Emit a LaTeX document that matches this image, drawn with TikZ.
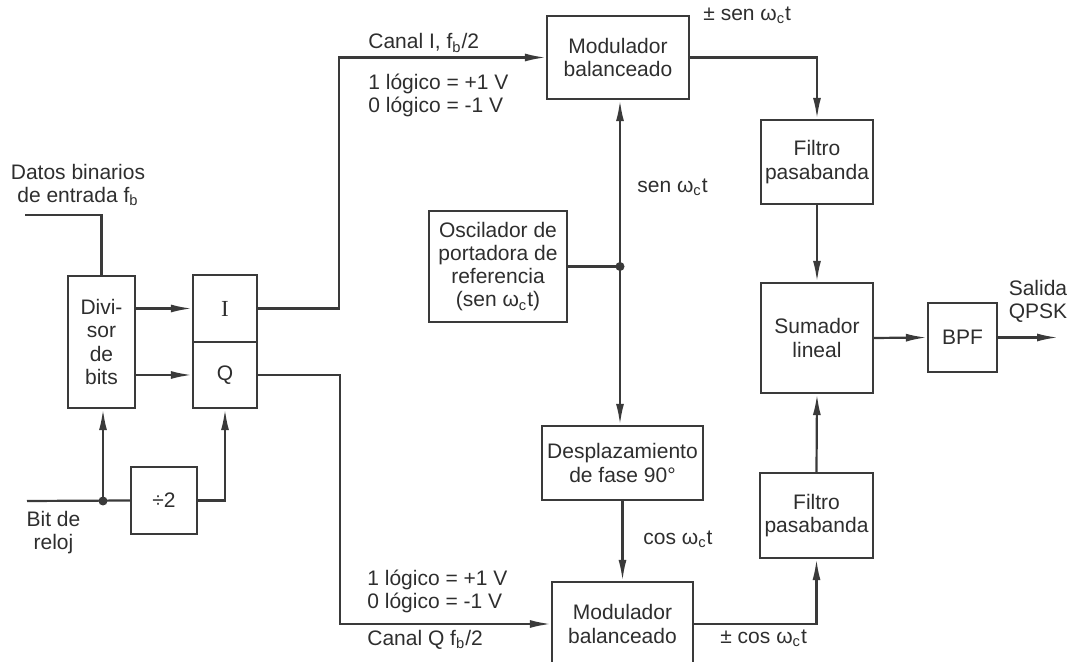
\documentclass[tikz,border=0pt]{standalone}
\usepackage{fontspec}
\setmainfont{Liberation Sans}
\newfontfamily\serifI{Liberation Serif}
\usetikzlibrary{arrows.meta, positioning, calc}
\definecolor{ink}{HTML}{3A3A3A}
\definecolor{txt}{HTML}{2E2E2E}
\newcommand{\wct}{ω\textsubscript{c}t}
\newcommand{\fbit}{f\textsubscript{b}}

\begin{document}
\begin{tikzpicture}[x=0.5pt, y=-0.5pt,
            blk/.style={draw=ink, line width=1.1pt, fill=white, align=center, inner sep=1pt, font=\fontsize{10.5}{11.6}\selectfont, text=txt},
            lbl/.style={align=left, inner sep=0pt, font=\fontsize{10.5}{11.6}\selectfont, text=txt},
            wire/.style={draw=ink, line width=1.1pt},
            arr/.style={wire, -{Latex[length=10.5pt, width=4pt]}},
            dot/.style={circle, fill=ink, inner sep=0pt, minimum size=4.5pt}]
            \useasboundingbox (0,0) rectangle (1073,662);
            \node[blk, minimum width=33.5pt, minimum height=66pt] (div) at (101.5,342) {Divi-\\sor\\de\\bits};
            \node[blk, minimum width=32pt, minimum height=33.5pt] (I) at (225,308.5) {\serifI\fontsize{11.5}{12}\selectfont I};
            \node[blk, minimum width=32pt, minimum height=33pt] (Q) at (225,375) {Q};
            \node[blk, minimum width=33pt, minimum height=33.5pt] (half) at (164,500.5) {÷2};
            \node[blk, minimum width=69pt, minimum height=55.5pt] (osc) at (498,266.5) {Oscilador de\\portadora de\\referencia\\(sen \wct)};
            \node[blk, minimum width=71pt, minimum height=41.5pt] (mod1) at (618,57.5) {Modulador\\balanceado};
            \node[blk, minimum width=80.5pt, minimum height=37pt] (shift) at (622.5,463) {Desplazamiento\\de fase 90°};
            \node[blk, minimum width=70.5pt, minimum height=42pt] (mod2) at (622.5,624) {Modulador\\balanceado};
            \node[blk, minimum width=56pt, minimum height=42pt] (filt1) at (817,162) {Filtro\\pasabanda};
            \node[blk, minimum width=56pt, minimum height=55pt] (sum) at (817,338) {Sumador\\lineal};
            \node[blk, minimum width=34.5pt, minimum height=34.5pt] (bpf) at (962.5,337.5) {BPF};
            \node[blk, minimum width=56.5pt, minimum height=42.5pt] (filt2) at (816.5,515.5) {Filtro\\pasabanda};

            \coordinate (din) at (25,215);
            \coordinate (clk) at (27,501);
            \coordinate (clktap) at (103,501);
            \coordinate (tap) at (620,266.5);
            \coordinate (out) at (1058,337.5);

            \draw[wire] (din) -| (div.north);
            \draw[arr] (div.east |- I.west) -- (I.west);
            \draw[arr] (div.east |- Q.west) -- (Q.west);
            \draw[wire] (clk) -- (half.west);
            \draw[arr] (clktap) -- (clktap |- div.south);
            \draw[arr] (half.east) -| (Q.south);
            \node[dot] at (clktap) {};
            \draw[arr] (I.east) -- ++(81,0) |- (mod1.west);
            \draw[arr] (Q.east) -- ++(82,0) |- (mod2.west);
            \draw[wire] (osc.east) -- (tap);
            \draw[arr] (tap) -- (tap |- mod1.south);
            \draw[arr] (tap) -- (tap |- shift.north);
            \node[dot] at (tap) {};
            \draw[arr] (shift.south) -- (mod2.north);
            \draw[arr] (mod1.east) -| (filt1.north);
            \draw[arr] (filt1.south) -- (sum.north);
            \draw[arr] (mod2.east) -| (filt2.south);
            \draw[arr] (filt2.north) -- (sum.south);
            \draw[arr] (sum.east) -- (bpf.west);
            \draw[arr] (bpf.east) -- (out);

            \node[lbl, align=center] at (78,185) {Datos binarios\\de entrada \fbit};
            \node[lbl, align=center] at (53.5,532.5) {Bit de\\reloj};
            \node[lbl, anchor=west] at (368,43) {Canal I, \fbit/2};
            \node[lbl, anchor=west] at (368,95.5) {1 lógico = +1 V\\0 lógico = -1 V};
            \node[lbl, anchor=west] at (703,15) {± sen \wct};
            \node[lbl, anchor=west] at (637,187) {sen \wct};
            \node[lbl, anchor=west] at (643,539) {cos \wct};
            \node[lbl, anchor=west] at (367,591.5) {1 lógico = +1 V\\0 lógico = -1 V};
            \node[lbl, anchor=west] at (367,640) {Canal Q \fbit/2};
            \node[lbl, anchor=west] at (720,638) {± cos \wct};
            \node[lbl, align=center] at (1038,301) {Salida\\QPSK};
        \end{tikzpicture}
\end{document}
